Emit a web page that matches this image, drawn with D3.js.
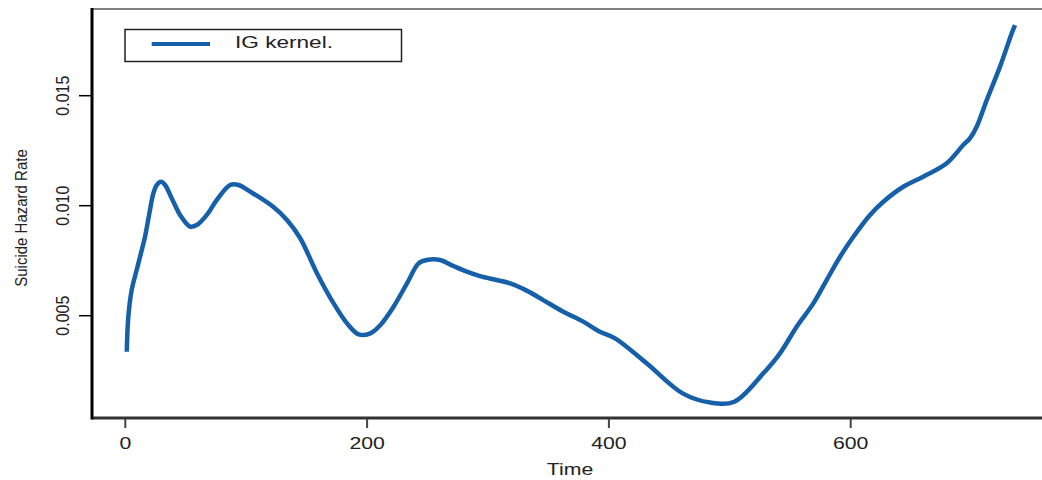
<!DOCTYPE html>
<html>
<head>
<meta charset="utf-8">
<script src="https://cdn.jsdelivr.net/npm/d3@7"></script>
<style>
  body { margin: 0; background: #fff; }
  text { font-family: "Liberation Sans", Arial, sans-serif; fill: #222; }
</style>
</head>
<body>
<div id="vis"></div>
<script>
var width = 1042;
var height = 480;

// data
var timeVals = [1.2, 2.5, 5.3, 9.4, 12.2, 16.3, 19.9, 23.2, 26.0, 29.6, 32.9, 38.4, 45.3, 53.6,
    59.1, 67.4, 75.7, 86.7, 93.6, 103.3, 122.3, 133.7, 144.7, 158.5, 172.3, 183.4, 193.0,
    202.7, 211.0, 221.9, 233.0, 242.6, 249.3, 260.3, 271.3, 282.4, 293.4, 307.2, 318.3,
    332.0, 345.7, 362.3, 378.8, 392.6, 405.1, 431.2, 461.0, 484.0, 503.7, 527.7, 541.5,
    555.3, 569.1, 580.1, 591.2, 602.2, 616.0, 627.0, 643.5, 660.0, 679.4, 693.1, 698.6,
    704.2, 712.5, 723.5, 733.2, 735.9];
var hazardVals = [0.00336, 0.00495, 0.00617, 0.00708, 0.00768, 0.00859, 0.00965, 0.01056,
    0.01094, 0.01109, 0.01094, 0.01034, 0.00958, 0.00905, 0.00912, 0.00958, 0.01026,
    0.01094, 0.01094, 0.01064, 0.00995, 0.00935, 0.00852, 0.00693, 0.00556, 0.00465,
    0.00415, 0.00420, 0.00458, 0.00541, 0.00647, 0.00738, 0.00753, 0.00753, 0.00726,
    0.00700, 0.00680, 0.00662, 0.00647, 0.00614, 0.00571, 0.00518, 0.00473, 0.00427,
    0.00397, 0.00284, 0.00147, 0.00105, 0.00109, 0.00238, 0.00329, 0.00450, 0.00556,
    0.00662, 0.00768, 0.00859, 0.00958, 0.01018, 0.01086, 0.01132, 0.01193, 0.01276,
    0.01306, 0.01359, 0.01480, 0.01632, 0.01784, 0.01821];
var xTicks = [0, 200, 400, 600];
var yTicks = [0.005, 0.010, 0.015];
var legendLabel = 'IG kernel.';
var xTitle = 'Time';
var yTitle = 'Suicide Hazard Rate';

var lineColor = '#1660aa';
var box = { left: 92, right: 1052, top: 9, bottom: 418 };

var x = d3.scaleLinear().domain([0, 600]).range([125.3, 850.7]);
var y = d3.scaleLinear().domain([0.005, 0.015]).range([315.7, 95.7]);

var svg = d3.select('#vis')
    .append('svg')
    .attr('width', width)
    .attr('height', height);

// frame: grey top, heavy left and bottom
svg.append('line')
    .attr('x1', box.left).attr('x2', box.right)
    .attr('y1', box.top).attr('y2', box.top)
    .attr('stroke', '#808080').attr('stroke-width', 2);
svg.append('line')
    .attr('x1', box.left).attr('x2', box.right)
    .attr('y1', box.bottom).attr('y2', box.bottom)
    .attr('stroke', '#333').attr('stroke-width', 3);
svg.append('line')
    .attr('x1', box.left).attr('x2', box.left)
    .attr('y1', box.top - 1).attr('y2', box.bottom + 1.5)
    .attr('stroke', '#000').attr('stroke-width', 3);

// x axis ticks + labels
var xg = svg.append('g');
xg.selectAll('line')
    .data(xTicks)
    .enter().append('line')
    .attr('x1', function (d) { return x(d); })
    .attr('x2', function (d) { return x(d); })
    .attr('y1', box.bottom + 1).attr('y2', box.bottom + 10)
    .attr('stroke', '#444').attr('stroke-width', 2);
xg.selectAll('text')
    .data(xTicks)
    .enter().append('text')
    .attr('transform', function (d) { return 'translate(' + x(d) + ',449) scale(1.25,1)'; })
    .attr('text-anchor', 'middle')
    .style('font-size', '17px')
    .text(function (d) { return d; });

// y axis ticks + rotated labels
var yg = svg.append('g');
yg.selectAll('line')
    .data(yTicks)
    .enter().append('line')
    .attr('x1', 79).attr('x2', box.left)
    .attr('y1', function (d) { return y(d); })
    .attr('y2', function (d) { return y(d); })
    .attr('stroke', '#000').attr('stroke-width', 1.5);
yg.selectAll('text')
    .data(yTicks)
    .enter().append('text')
    .attr('transform', function (d) { return 'translate(69,' + y(d) + ') scale(1.2,1) rotate(-90)'; })
    .attr('text-anchor', 'middle')
    .style('font-size', '16px')
    .text(function (d) { return d3.format('.3f')(d); });

// axis titles
svg.append('text')
    .attr('transform', 'translate(570,475) scale(1.25,1)')
    .attr('text-anchor', 'middle')
    .style('font-size', '17px')
    .text(xTitle);
svg.append('text')
    .attr('transform', 'translate(27,218) scale(1.15,1) rotate(-90)')
    .attr('text-anchor', 'middle')
    .style('font-size', '15px')
    .text(yTitle);

// the curve
var line = d3.line()
    .x(function (d) { return x(d[0]); })
    .y(function (d) { return y(d[1]); })
    .curve(d3.curveCatmullRom.alpha(0.5));
svg.append('path')
    .datum(d3.zip(timeVals, hazardVals))
    .attr('d', line)
    .attr('fill', 'none')
    .attr('stroke', lineColor)
    .attr('stroke-width', 4.5)
    .attr('stroke-linejoin', 'round');

// legend
var lg = svg.append('g');
lg.append('rect')
    .attr('x', 125).attr('y', 29.5)
    .attr('width', 276.5).attr('height', 32)
    .attr('fill', '#fff')
    .attr('stroke', '#222').attr('stroke-width', 1.5);
lg.append('line')
    .attr('x1', 151.7).attr('x2', 210)
    .attr('y1', 44).attr('y2', 44)
    .attr('stroke', lineColor).attr('stroke-width', 4);
lg.append('text')
    .attr('x', 235).attr('y', 48)
    .attr('textLength', 98)
    .attr('lengthAdjust', 'spacingAndGlyphs')
    .style('font-size', '16px')
    .text(legendLabel);
</script>
</body>
</html>
